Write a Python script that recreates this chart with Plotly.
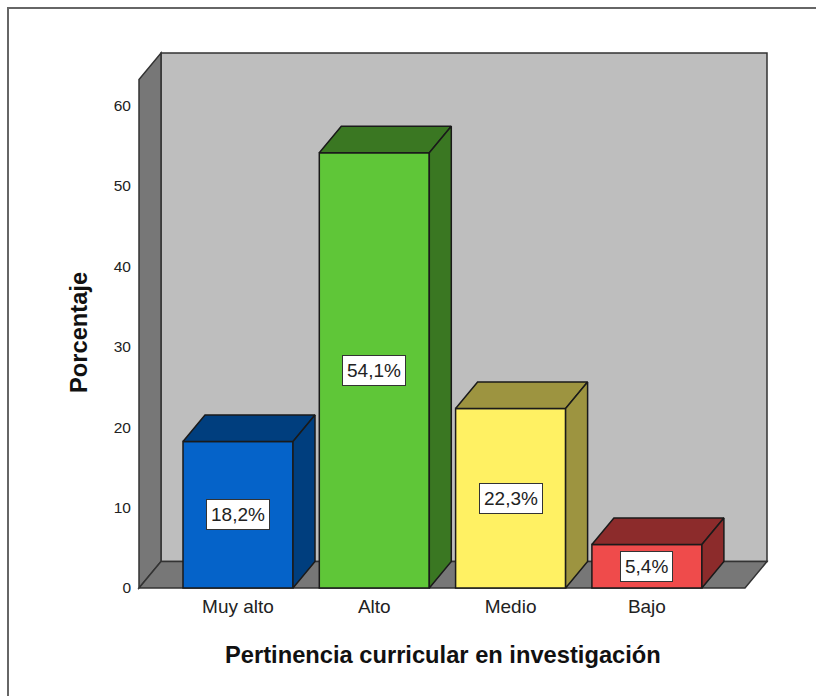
# -*- coding: utf-8 -*-
import plotly.graph_objects as go

#%% Data

categories = ["Muy alto", "Alto", "Medio", "Bajo"]
percent = [18.2, 54.1, 22.3, 5.4]
percent_labels = ["18,2%", "54,1%", "22,3%", "5,4%"]
y_ticks = [0, 10, 20, 30, 40, 50, 60]

front_colors = ["#0563C9", "#5FC638", "#FFF163", "#EF4B4B"]
dark_colors = ["#003E7E", "#3A7722", "#9D9440", "#8C2B2B"]

#%% Figure settings

W, H = 816, 696
ml, mr, mt, mb = 134, 44, 48, 103
x_scale = 136.3  # px per category
y_scale = 8.045  # px per percent
x_zero, y_zero = 238, 588  # px position of first category and of 0

x_range = [(ml - x_zero) / x_scale, (W - mr - x_zero) / x_scale]
y_range = [(y_zero - (H - mb)) / y_scale, (y_zero - mt) / y_scale]

bar_w = 0.807
dx = 22 / x_scale  # 3D depth
dy = 26.5 / y_scale
edge = "#1a1a1a"
wall_left, wall_right = (139 - x_zero) / x_scale, (745 - x_zero) / x_scale
wall_top = (y_zero - 53) / y_scale - dy


def paper_x(px):
    return (px - ml) / (W - ml - mr)


def paper_y(py):
    return (H - mb - py) / (H - mt - mb)


fig = go.Figure()

# Front faces
fig.add_trace(go.Bar(x=list(range(len(categories))), y=percent, width=bar_w,
                     marker=dict(color=front_colors, line=dict(color=edge, width=1.5)),
                     hoverinfo="skip"))

# Top and side faces of each bar
for i, v in enumerate(percent):
    x0, x1 = i - bar_w / 2, i + bar_w / 2
    fig.add_trace(go.Scatter(x=[x0, x0 + dx, x1 + dx, x1, x0], y=[v, v + dy, v + dy, v, v],
                             mode="lines", fill="toself", fillcolor=dark_colors[i],
                             line=dict(color=edge, width=1.5), hoverinfo="skip"))
    fig.add_trace(go.Scatter(x=[x1, x1 + dx, x1 + dx, x1, x1], y=[0, dy, v + dy, v, 0],
                             mode="lines", fill="toself", fillcolor=dark_colors[i],
                             line=dict(color=edge, width=1.5), hoverinfo="skip"))

# Value labels
for i, v in enumerate(percent):
    fig.add_annotation(x=i, y=v / 2, text=percent_labels[i], showarrow=False,
                       font=dict(family="Liberation Sans", size=19, color="#222222"),
                       bgcolor="white", bordercolor="#333333", borderwidth=1, borderpad=4)

# Axis titles
fig.add_annotation(xref="paper", yref="paper", x=paper_x(443), y=paper_y(655), showarrow=False,
                   xanchor="center", yanchor="middle",
                   text="<b>Pertinencia curricular en investigación</b>",
                   font=dict(size=23.7, color="#111111"))
fig.add_annotation(xref="paper", yref="paper", x=paper_x(79), y=paper_y(333), showarrow=False,
                   xanchor="center", yanchor="middle",
                   text="<b>Porcentaje</b>", textangle=-90,
                   font=dict(size=23.7, color="#111111"))

# Back wall, left wall and floor
wall_line = dict(color="#333333", width=1.5)
fig.add_shape(type="path", layer="below", fillcolor="#BEBEBE", line=wall_line,
              path=f"M {wall_left+dx} {dy} L {wall_left+dx} {wall_top+dy} L {wall_right+dx} {wall_top+dy} L {wall_right+dx} {dy} Z")
fig.add_shape(type="path", layer="below", fillcolor="#777777", line=wall_line,
              path=f"M {wall_left} 0 L {wall_left} {wall_top} L {wall_left+dx} {wall_top+dy} L {wall_left+dx} {dy} Z")
fig.add_shape(type="path", layer="below", fillcolor="#777777", line=wall_line,
              path=f"M {wall_left} 0 L {wall_right} 0 L {wall_right+dx} {dy} L {wall_left+dx} {dy} Z")

# Outer frame, only top and left edges show
fig.add_shape(type="path", xref="paper", yref="paper", line=dict(color="#666666", width=2),
              path=f"M {paper_x(8)} {paper_y(H)} L {paper_x(8)} {paper_y(8)} L {paper_x(W)} {paper_y(8)}")

fig.update_layout(
    width=W, height=H, margin=dict(l=ml, r=mr, t=mt, b=mb),
    paper_bgcolor="white", plot_bgcolor="white", showlegend=False,
    font=dict(family="Liberation Sans", color="#222222"),
    xaxis=dict(range=x_range, tickvals=list(range(len(categories))), ticktext=categories,
               showgrid=False, zeroline=False, showline=False, ticks="",
               tickfont=dict(size=19)),
    yaxis=dict(range=y_range, tickvals=y_ticks, showgrid=False, zeroline=False, showline=False,
               ticks="", ticklabelstandoff=2, tickfont=dict(size=15.5)),
)

fig.write_html("out.html", config={"displayModeBar": False},
               post_script="document.body.style.margin='0';")
